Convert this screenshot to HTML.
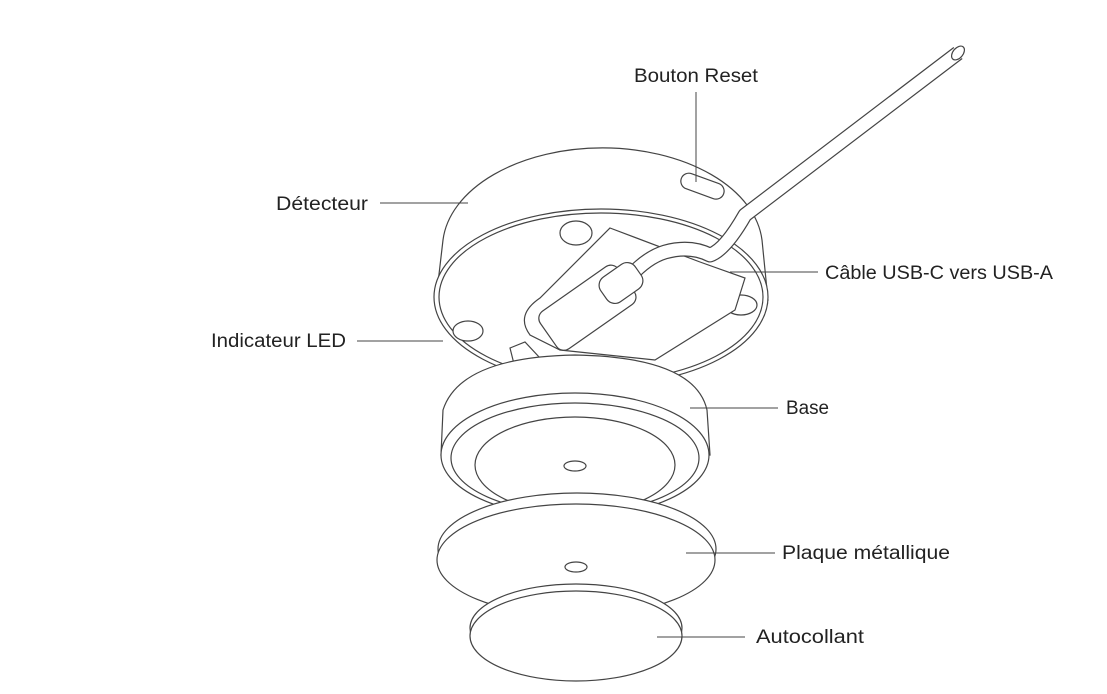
<!DOCTYPE html>
<html><head><meta charset="utf-8"><style>
body{margin:0;background:#fff;}
svg{display:block}
text{font-family:"Liberation Sans",sans-serif;font-size:19px;fill:#222}
</style></head><body>
<svg width="1107" height="694" viewBox="0 0 1107 694">
<g fill="#fff" stroke="#444" stroke-width="1.2">
<!-- detector -->
<path d="M443,240 A160,100 0 0 1 762,240 L768,300 L436,300 Z"/>
<ellipse cx="601" cy="297" rx="167" ry="88"/>
<ellipse cx="601" cy="297" rx="162" ry="84" fill="none"/>
<ellipse cx="576" cy="233" rx="16" ry="12"/>
<ellipse cx="468" cy="331" rx="15" ry="10"/>
<ellipse cx="741" cy="305" rx="16" ry="10"/>
<rect x="680" y="178" width="45" height="16" rx="8" transform="rotate(20 702 186)"/>
<!-- module -->
<path d="M610,228 L700,262 L745,278 L735,310 L655,360 L560,350 L530,335 Q515,315 540,298 Z"/>
<path d="M510,348 L525,342 L540,358 L515,368 Z"/>
</g>
<!-- cable -->
<path d="M625,282 Q645,258 665,252 Q690,245 710,255 Q725,250 745,215 L958,53" fill="none" stroke="#444" stroke-width="15" stroke-linejoin="round"/>
<path d="M625,282 Q645,258 665,252 Q690,245 710,255 Q725,250 745,215 L958,53" fill="none" stroke="#fff" stroke-width="12.6" stroke-linejoin="round"/>
<g fill="#fff" stroke="#444" stroke-width="1.2">
<ellipse cx="958" cy="53" rx="5" ry="8" transform="rotate(40 958 53)"/>
<!-- connector -->
<rect x="540" y="285" width="95" height="46" rx="9" transform="rotate(-35 587 308)"/>
<rect x="600" y="268" width="42" height="30" rx="10" transform="rotate(-35 621 283)"/>
<!-- base -->
<path d="M443,410 Q460,357 575,355 Q695,357 707,410 L710,455 L441,455 Z"/>
<ellipse cx="575" cy="455" rx="134" ry="62"/>
<ellipse cx="575" cy="458" rx="124" ry="55" fill="none"/>
<ellipse cx="575" cy="465" rx="100" ry="48" fill="none"/>
<ellipse cx="575" cy="466" rx="11" ry="5"/>
<!-- plate -->
<ellipse cx="577" cy="549" rx="139" ry="56"/>
<ellipse cx="576" cy="560" rx="139" ry="56"/>
<ellipse cx="576" cy="567" rx="11" ry="5"/>
<!-- sticker -->
<ellipse cx="576" cy="628" rx="106" ry="44"/>
<ellipse cx="576" cy="636" rx="106" ry="45"/>
</g>
<g stroke="#444" stroke-width="1">
<line x1="696" y1="92" x2="696" y2="182"/>
<line x1="380" y1="203" x2="468" y2="203"/>
<line x1="730" y1="272" x2="818" y2="272"/>
<line x1="357" y1="341" x2="443" y2="341"/>
<line x1="690" y1="408" x2="778" y2="408"/>
<line x1="686" y1="553" x2="775" y2="553"/>
<line x1="657" y1="637" x2="745" y2="637"/>
</g>
<text x="634" y="82" textLength="124" lengthAdjust="spacingAndGlyphs">Bouton Reset</text>
<text x="276" y="210" textLength="92" lengthAdjust="spacingAndGlyphs">Détecteur</text>
<text x="825" y="279" textLength="228" lengthAdjust="spacingAndGlyphs">Câble USB-C vers USB-A</text>
<text x="211" y="347" textLength="135" lengthAdjust="spacingAndGlyphs">Indicateur LED</text>
<text x="786" y="414" textLength="43" lengthAdjust="spacingAndGlyphs">Base</text>
<text x="782" y="559" textLength="168" lengthAdjust="spacingAndGlyphs">Plaque métallique</text>
<text x="756" y="643" textLength="108" lengthAdjust="spacingAndGlyphs">Autocollant</text>
</svg>
</body></html>
